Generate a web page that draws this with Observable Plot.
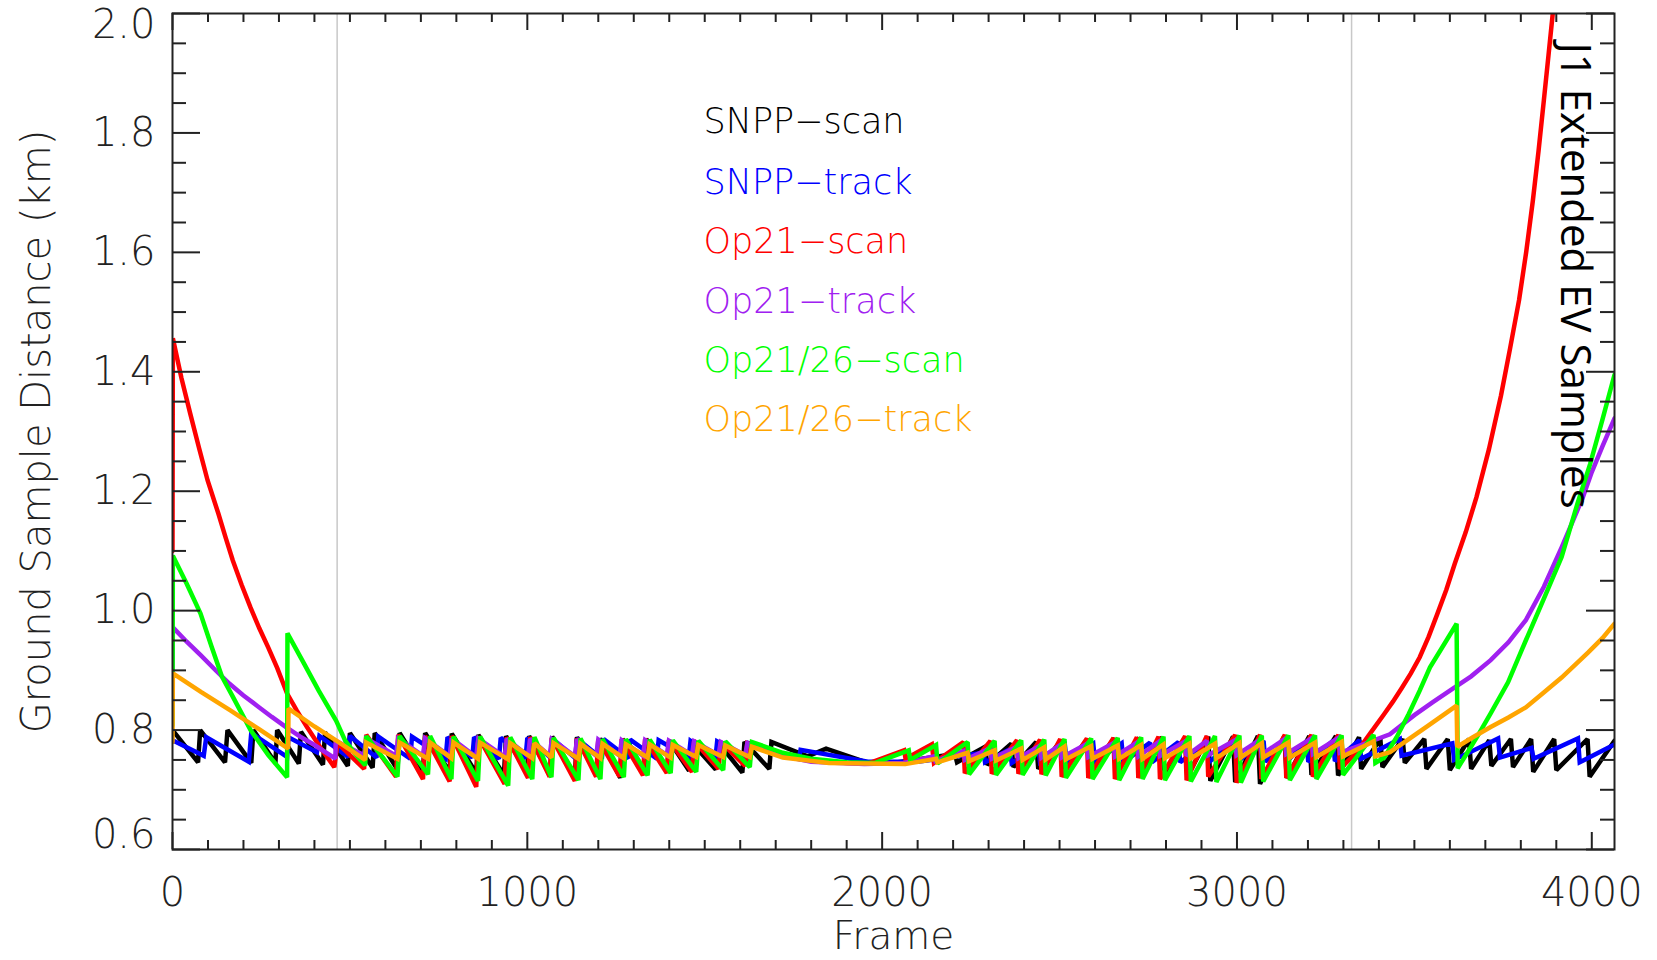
<!DOCTYPE html>
<html><head><meta charset="utf-8">
<script src="https://cdn.jsdelivr.net/npm/d3@7"></script>
<script src="https://cdn.jsdelivr.net/npm/@observablehq/plot@0.6"></script>
<style>html,body{margin:0;padding:0;background:#fff;}</style>
</head><body><div id="chart"></div>
<script>
// ---- data: [frame, ground sample distance (km)] vertices ----
const snppScan = [[0,0.800],[72,0.746],[78,0.800],[148,0.746],[155,0.800],[222,0.745],[228,0.800],[290,0.745],[295,0.800],[356,0.744],[362,0.797],[424,0.742],[430,0.796],[494,0.740],[500,0.795],[564,0.737],[570,0.795],[634,0.734],[640,0.795],[706,0.732],[712,0.795],[781,0.730],[787,0.794],[856,0.728],[862,0.792],[934,0.725],[940,0.790],[999,0.728],[1005,0.790],[1064,0.726],[1070,0.789],[1134,0.724],[1140,0.788],[1199,0.726],[1205,0.786],[1262,0.720],[1268,0.785],[1329,0.726],[1335,0.785],[1394,0.730],[1400,0.782],[1456,0.732],[1462,0.780],[1531,0.734],[1537,0.780],[1606,0.729],[1612,0.780],[1682,0.735],[1688,0.780],[1790,0.756],[1842,0.769],[1960,0.745],[2030,0.745],[2205,0.760],[2211,0.746],[2290,0.772],[2296,0.742],[2364,0.777],[2370,0.738],[2434,0.780],[2440,0.735],[2504,0.782],[2510,0.733],[2579,0.785],[2585,0.730],[2654,0.786],[2660,0.728],[2724,0.787],[2730,0.730],[2789,0.788],[2795,0.725],[2854,0.788],[2860,0.722],[2919,0.789],[2925,0.715],[2989,0.789],[2995,0.713],[3059,0.790],[3065,0.710],[3134,0.790],[3140,0.720],[3204,0.790],[3210,0.725],[3279,0.790],[3285,0.724],[3344,0.788],[3350,0.735],[3404,0.786],[3410,0.738],[3467,0.785],[3473,0.745],[3528,0.785],[3534,0.735],[3594,0.785],[3600,0.733],[3654,0.785],[3660,0.735],[3711,0.783],[3717,0.740],[3772,0.785],[3778,0.738],[3829,0.785],[3835,0.730],[3894,0.785],[3900,0.733],[3988,0.785],[3994,0.722],[4064,0.782]];

const snppTrack = [[0,0.783],[88,0.757],[95,0.788],[215,0.747],[222,0.795],[323,0.755],[327,0.788],[407,0.763],[414,0.790],[495,0.755],[500,0.790],[575,0.754],[580,0.789],[670,0.752],[675,0.789],[770,0.752],[775,0.788],[845,0.754],[850,0.788],[920,0.752],[925,0.787],[995,0.753],[1000,0.787],[1065,0.754],[1070,0.786],[1135,0.753],[1140,0.786],[1210,0.752],[1215,0.785],[1285,0.753],[1290,0.784],[1365,0.752],[1370,0.783],[1455,0.754],[1460,0.782],[1530,0.752],[1535,0.781],[1620,0.752],[1625,0.778],[1765,0.752],[1770,0.767],[1960,0.747],[2100,0.747],[2286,0.762],[2290,0.746],[2360,0.768],[2365,0.745],[2440,0.772],[2445,0.746],[2515,0.775],[2520,0.747],[2595,0.777],[2600,0.747],[2675,0.778],[2680,0.746],[2755,0.779],[2760,0.746],[2835,0.780],[2840,0.746],[2915,0.780],[2920,0.746],[2995,0.781],[3000,0.746],[3075,0.782],[3080,0.747],[3135,0.780],[3140,0.747],[3196,0.780],[3201,0.747],[3271,0.782],[3276,0.748],[3345,0.783],[3350,0.752],[3459,0.785],[3464,0.757],[3607,0.778],[3612,0.750],[3736,0.786],[3741,0.754],[3830,0.770],[3836,0.752],[3961,0.786],[3966,0.746],[4064,0.776]];

const op21Scan = [[0,1.100],[1,1.456],[25,1.390],[50,1.330],[75,1.272],[99,1.218],[129,1.163],[150,1.122],[170,1.084],[195,1.043],[220,1.005],[245,0.970],[270,0.938],[295,0.904],[323,0.861],[350,0.833],[379,0.805],[420,0.768],[456,0.738],[465,0.778],[540,0.735],[546,0.792],[630,0.722],[636,0.792],[706,0.718],[712,0.790],[781,0.714],[787,0.790],[856,0.705],[862,0.789],[936,0.710],[942,0.788],[1002,0.720],[1008,0.788],[1063,0.722],[1069,0.787],[1134,0.715],[1140,0.786],[1194,0.722],[1200,0.785],[1260,0.722],[1266,0.785],[1326,0.724],[1332,0.785],[1393,0.728],[1399,0.783],[1464,0.730],[1470,0.782],[1539,0.735],[1545,0.780],[1614,0.740],[1620,0.778],[1700,0.760],[1800,0.750],[1900,0.745],[1960,0.744],[2062,0.766],[2066,0.752],[2140,0.776],[2146,0.745],[2229,0.780],[2233,0.728],[2305,0.782],[2309,0.727],[2380,0.783],[2384,0.727],[2445,0.784],[2449,0.726],[2502,0.785],[2506,0.722],[2577,0.786],[2581,0.720],[2652,0.787],[2656,0.718],[2718,0.788],[2722,0.720],[2779,0.789],[2783,0.718],[2854,0.790],[2858,0.716],[2915,0.790],[2919,0.722],[2995,0.792],[2999,0.712],[3065,0.792],[3069,0.718],[3135,0.792],[3139,0.720],[3210,0.792],[3214,0.722],[3286,0.792],[3290,0.735],[3335,0.761],[3375,0.794],[3415,0.827],[3440,0.848],[3465,0.871],[3490,0.895],[3515,0.922],[3540,0.956],[3565,0.995],[3590,1.035],[3614,1.079],[3645,1.132],[3675,1.190],[3710,1.270],[3744,1.360],[3770,1.440],[3795,1.520],[3815,1.600],[3834,1.687],[3850,1.770],[3865,1.855],[3878,1.930],[3890,2.000],[3900,2.060]];

const op21Track = [[0,0.896],[1,0.972],[40,0.948],[80,0.925],[120,0.901],[160,0.878],[200,0.858],[240,0.840],[280,0.822],[320,0.805],[360,0.789],[400,0.775],[459,0.752],[460,0.782],[540,0.758],[546,0.786],[630,0.757],[636,0.786],[706,0.757],[712,0.786],[781,0.756],[787,0.786],[856,0.755],[862,0.786],[936,0.755],[942,0.785],[1002,0.757],[1008,0.785],[1063,0.757],[1069,0.785],[1134,0.756],[1140,0.784],[1194,0.757],[1200,0.784],[1260,0.757],[1266,0.783],[1326,0.757],[1332,0.783],[1393,0.758],[1399,0.782],[1464,0.758],[1470,0.781],[1539,0.758],[1545,0.780],[1614,0.758],[1620,0.778],[1718,0.757],[1800,0.747],[1950,0.743],[2060,0.745],[2146,0.756],[2150,0.748],[2229,0.765],[2233,0.750],[2305,0.770],[2309,0.752],[2380,0.772],[2384,0.753],[2445,0.774],[2449,0.754],[2502,0.775],[2506,0.754],[2577,0.777],[2581,0.755],[2652,0.778],[2656,0.756],[2718,0.779],[2722,0.756],[2779,0.780],[2783,0.757],[2854,0.781],[2858,0.757],[2915,0.782],[2919,0.758],[2995,0.783],[2999,0.758],[3065,0.784],[3069,0.759],[3135,0.785],[3139,0.760],[3210,0.786],[3214,0.760],[3286,0.787],[3290,0.762],[3350,0.775],[3431,0.793],[3500,0.825],[3550,0.846],[3600,0.866],[3660,0.890],[3715,0.917],[3765,0.947],[3814,0.984],[3865,1.040],[3915,1.106],[3945,1.148],[3975,1.190],[4000,1.232],[4030,1.275],[4064,1.322]];

const op2126Scan = [[0,0.808],[1,1.092],[40,1.045],[79,0.995],[110,0.940],[139,0.890],[168,0.858],[195,0.828],[220,0.800],[270,0.758],[323,0.721],[324,0.962],[370,0.912],[412,0.866],[461,0.816],[487,0.782],[515,0.760],[543,0.741],[546,0.790],[634,0.722],[640,0.790],[720,0.726],[726,0.790],[786,0.718],[792,0.789],[861,0.715],[867,0.789],[946,0.707],[952,0.788],[1014,0.718],[1020,0.788],[1068,0.721],[1074,0.787],[1144,0.716],[1150,0.786],[1206,0.718],[1212,0.785],[1272,0.721],[1278,0.785],[1339,0.724],[1345,0.784],[1404,0.728],[1410,0.783],[1476,0.730],[1482,0.782],[1552,0.733],[1558,0.781],[1627,0.738],[1633,0.780],[1720,0.762],[1800,0.752],[1900,0.746],[1980,0.745],[2075,0.766],[2079,0.750],[2152,0.775],[2156,0.744],[2241,0.780],[2245,0.726],[2317,0.782],[2321,0.725],[2392,0.783],[2396,0.725],[2457,0.784],[2461,0.724],[2514,0.785],[2518,0.720],[2589,0.786],[2593,0.718],[2664,0.787],[2668,0.716],[2730,0.788],[2734,0.718],[2793,0.789],[2797,0.716],[2866,0.790],[2870,0.714],[2938,0.790],[2942,0.713],[3007,0.791],[3011,0.712],[3070,0.791],[3074,0.714],[3145,0.791],[3149,0.716],[3220,0.791],[3224,0.718],[3295,0.791],[3299,0.725],[3385,0.792],[3390,0.745],[3415,0.754],[3450,0.788],[3484,0.827],[3515,0.866],[3544,0.905],[3580,0.940],[3619,0.978],[3622,0.736],[3647,0.760],[3680,0.792],[3715,0.828],[3764,0.880],[3814,0.950],[3865,1.020],[3915,1.090],[3960,1.180],[3995,1.245],[4030,1.320],[4064,1.395]];

const op2126Track = [[0,0.780],[1,0.895],[80,0.864],[163,0.833],[245,0.801],[326,0.769],[327,0.836],[400,0.806],[465,0.781],[543,0.750],[546,0.779],[634,0.752],[640,0.779],[720,0.752],[726,0.779],[786,0.753],[792,0.779],[861,0.752],[867,0.779],[946,0.751],[952,0.778],[1014,0.753],[1020,0.778],[1068,0.754],[1074,0.778],[1144,0.752],[1150,0.777],[1206,0.753],[1212,0.777],[1272,0.753],[1278,0.776],[1339,0.754],[1345,0.776],[1404,0.754],[1410,0.775],[1476,0.755],[1482,0.775],[1552,0.755],[1558,0.774],[1627,0.755],[1633,0.772],[1720,0.754],[1850,0.745],[2065,0.743],[2152,0.752],[2156,0.746],[2241,0.762],[2245,0.748],[2317,0.766],[2321,0.749],[2392,0.769],[2396,0.750],[2457,0.771],[2461,0.751],[2514,0.772],[2518,0.751],[2589,0.773],[2593,0.752],[2664,0.774],[2668,0.752],[2730,0.775],[2734,0.752],[2793,0.776],[2797,0.753],[2866,0.777],[2870,0.753],[2938,0.777],[2942,0.753],[3007,0.778],[3011,0.754],[3070,0.778],[3074,0.754],[3145,0.779],[3149,0.754],[3220,0.779],[3224,0.755],[3295,0.780],[3299,0.756],[3385,0.781],[3390,0.756],[3431,0.763],[3465,0.777],[3540,0.808],[3619,0.841],[3621,0.772],[3665,0.788],[3715,0.805],[3765,0.821],[3814,0.838],[3863,0.862],[3915,0.888],[3990,0.930],[4030,0.954],[4064,0.978]];

const seriesNames = ["SNPP\u2212scan","SNPP\u2212track","Op21\u2212scan","Op21\u2212track","Op21/26\u2212scan","Op21/26\u2212track"];
const seriesColors = ["#000000","#0000ff","#ff0000","#a020f0","#00ff00","#ffa500"];
const seriesData = [snppScan, snppTrack, op21Scan, op21Track, op2126Scan, op2126Track];

const xTickValues = [0,1000,2000,3000,4000];
const xTickLabels = ["0","1000","2000","3000","4000"];
const yTickValues = [0.6,0.8,1.0,1.2,1.4,1.6,1.8,2.0];
const yTickLabels = ["0.6","0.8","1.0","1.2","1.4","1.6","1.8","2.0"];
const boundaryFrames = [464, 3323];
const xTitle = "Frame";
const yTitle = "Ground Sample Distance (km)";
const sideNote = "J1 Extended EV Samples";

// ---- table built from the arrays ----
const rows = seriesData.flatMap((pts, i) => pts.map(([f, g]) => ({frame: f, gsd: g, series: seriesNames[i]})));

const W = 1657, H = 960, mL = 172, mR = 43, mT = 13, mB = 111;
const innerW = W - mL - mR, innerH = H - mT - mB;
const xMinor = d3.range(0, 4064, 100).filter(v => v % 1000 !== 0);
const yMinor = d3.range(0.65, 2.0, 0.05).map(v => +v.toFixed(2)).filter(v => Math.round(v * 100) % 20 !== 0);

const axisColor = "#222";
const tickFont = "'DejaVu Sans', sans-serif";
const legendDy = [108.5, 168.8, 227.9, 288.2, 347.4, 406.5];
const ySpec = yTickValues.map((v, i) => ({v, label: yTickLabels[i]}));
const yMid = ySpec.slice(1, -1), yBottom = ySpec.slice(0, 1), yTop = ySpec.slice(-1);
const yLabelOpts = (shift) => ({y: "v", text: "label", frameAnchor: "left", dx: -17, dy: shift, textAnchor: "end", lineAnchor: "middle", fontSize: 40, fontWeight: 200, fill: axisColor});

const chart = Plot.plot({
  width: W, height: H,
  marginLeft: mL, marginRight: mR, marginTop: mT, marginBottom: mB,
  x: {domain: [0, 4064], axis: null},
  y: {domain: [0.6, 2.0], axis: null},
  color: {domain: seriesNames, range: seriesColors},
  style: {fontFamily: tickFont, background: "#fff"},
  marks: [
    Plot.ruleX(boundaryFrames, {x: d => d, stroke: "#c8c8c8", strokeWidth: 1.5}),
    Plot.line(rows, {x: "frame", y: "gsd", z: "series", stroke: "series", strokeWidth: 4.5, strokeLinejoin: "miter", strokeMiterlimit: 2, clip: true, curve: "linear"}),
    // inward ticks on all four sides
    Plot.tickX(xMinor, {x: d => d, insetTop: innerH - 9, stroke: axisColor, strokeWidth: 2}),
    Plot.tickX(xMinor, {x: d => d, insetBottom: innerH - 9, stroke: axisColor, strokeWidth: 2}),
    Plot.tickX(xTickValues, {x: d => d, insetTop: innerH - 17, stroke: axisColor, strokeWidth: 2}),
    Plot.tickX(xTickValues, {x: d => d, insetBottom: innerH - 17, stroke: axisColor, strokeWidth: 2}),
    Plot.tickY(yMinor, {y: d => d, insetRight: innerW - 14, stroke: axisColor, strokeWidth: 2}),
    Plot.tickY(yMinor, {y: d => d, insetLeft: innerW - 14, stroke: axisColor, strokeWidth: 2}),
    Plot.tickY(yTickValues, {y: d => d, insetRight: innerW - 28, stroke: axisColor, strokeWidth: 2}),
    Plot.tickY(yTickValues, {y: d => d, insetLeft: innerW - 28, stroke: axisColor, strokeWidth: 2}),
    Plot.frame({stroke: axisColor, strokeWidth: 2}),
    // tick labels
    Plot.text(xTickValues, {x: d => d, text: (d, i) => xTickLabels[i], frameAnchor: "bottom", dy: 44, textAnchor: "middle", lineAnchor: "middle", fontSize: 40, fontWeight: 200, fill: axisColor}),
    Plot.text(yMid, yLabelOpts(0)),
    Plot.text(yTop, yLabelOpts(12)),
    Plot.text(yBottom, yLabelOpts(-14)),
    // axis titles
    Plot.text([xTitle], {frameAnchor: "bottom", dy: 87, textAnchor: "middle", lineAnchor: "middle", fontSize: 39, fontWeight: 200, fill: axisColor}),
    Plot.text([yTitle], {frameAnchor: "left", dx: -135, rotate: -90, textAnchor: "middle", lineAnchor: "middle", fontSize: 40, fontWeight: 200, fill: axisColor}),
    // legend
    ...seriesNames.map((name, i) => Plot.text([name], {frameAnchor: "top-left", dx: 531, dy: legendDy[i], textAnchor: "start", lineAnchor: "middle", fontSize: 35, fontWeight: 200, fill: seriesColors[i]})),
    // side note
    Plot.text([sideNote], {frameAnchor: "top-right", dx: -40, dy: 29, rotate: 90, textAnchor: "start", lineAnchor: "middle", fontSize: 42, fontFamily: "'Open Sans', Lato, sans-serif", fill: "#000"})
  ]
});
document.getElementById("chart").appendChild(chart);
</script>
</body></html>
